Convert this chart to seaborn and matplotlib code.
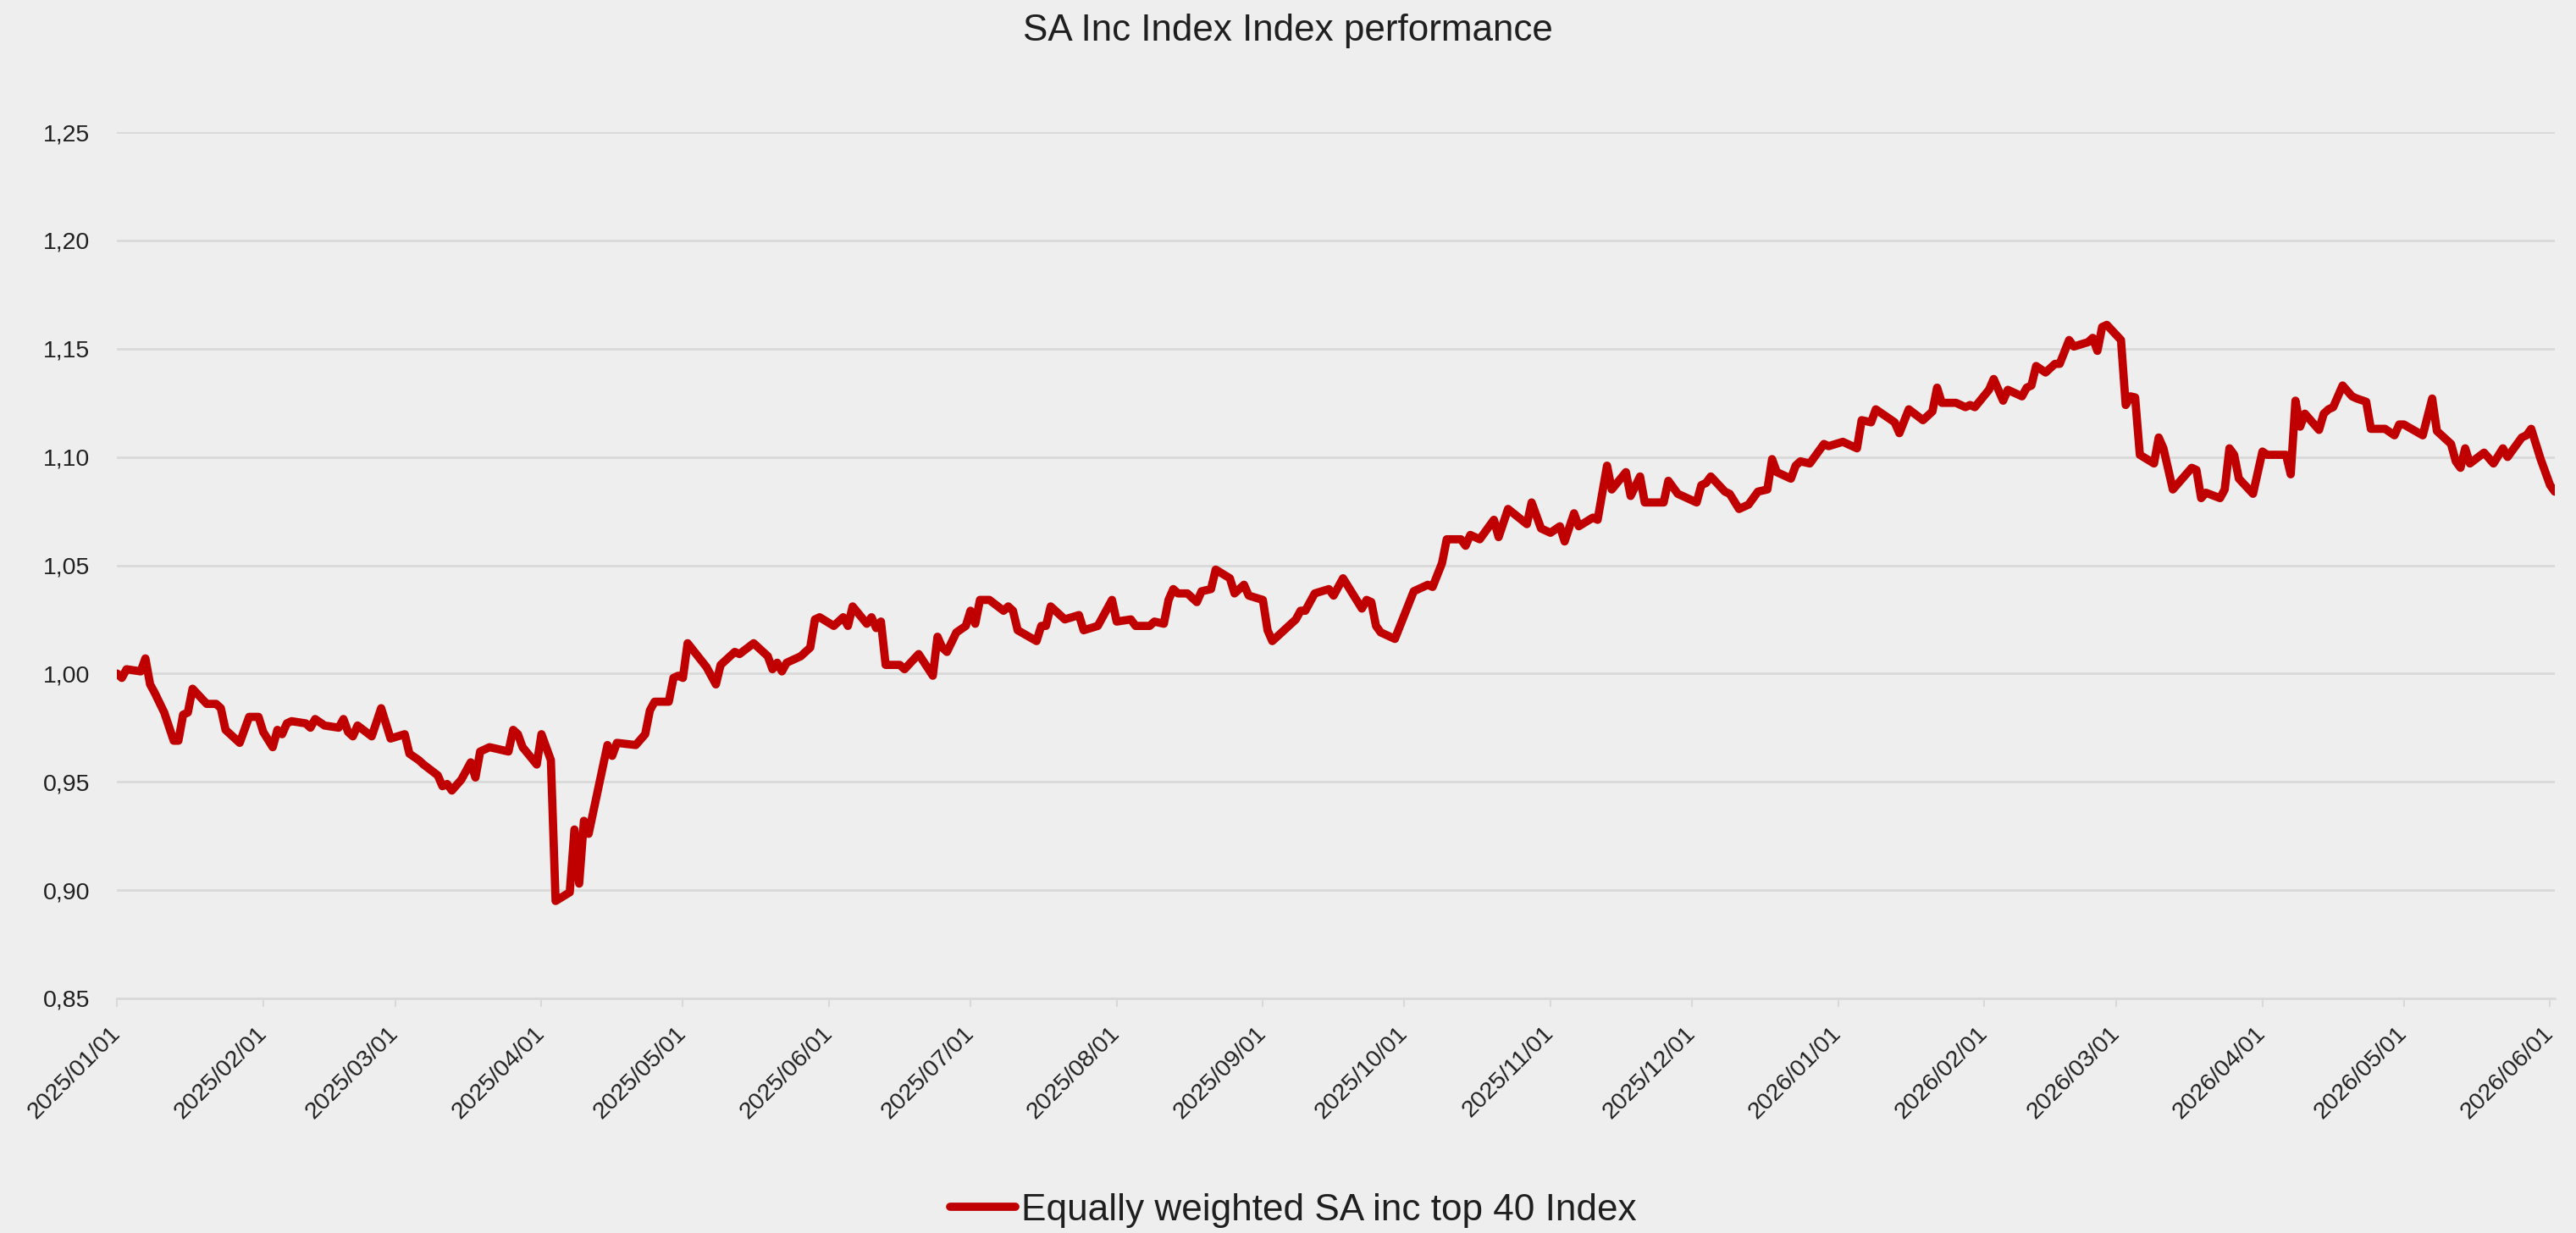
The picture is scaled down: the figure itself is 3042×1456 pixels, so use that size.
import matplotlib
matplotlib.use('Agg')
import matplotlib.pyplot as plt
import matplotlib.dates as mdates
from matplotlib.lines import Line2D
import seaborn as sns
import pandas as pd

# ---------------- data ----------------
title_text = 'SA Inc Index Index performance'
series_name = 'Equally weighted SA inc top 40 Index'
start_date = '2025-01-01'

day_offset = [
    0, 1, 2, 5, 6, 7, 8, 10, 12, 13, 14, 15, 16, 19, 21, 22, 23, 26, 28, 30,
    31, 33, 34, 35, 36, 37, 40, 41, 42, 44, 47, 48, 49, 50, 51, 54, 56, 58, 61, 62,
    64, 65, 68, 69, 70, 71, 73, 75, 76, 77, 79, 83, 84, 85, 86, 89, 90, 92, 93, 96,
    97, 98, 99, 100, 104, 105, 106, 110, 112, 113, 114, 117, 118, 119, 120, 121, 125, 126, 127, 128,
    131, 132, 135, 138, 139, 140, 141, 142, 145, 147, 148, 149, 152, 154, 155, 156, 159, 160, 161, 162,
    163, 166, 167, 170, 173, 174, 175, 176, 178, 180, 181, 182, 183, 185, 188, 189, 190, 191, 195, 196,
    197, 198, 201, 204, 205, 208, 211, 212, 215, 216, 219, 220, 222, 223, 224, 225, 227, 229, 230, 232,
    233, 236, 237, 239, 240, 243, 244, 245, 247, 250, 251, 252, 254, 257, 258, 260, 264, 265, 266, 267,
    268, 270, 271, 273, 275, 278, 279, 281, 282, 285, 286, 287, 289, 292, 293, 295, 299, 300, 302, 304,
    306, 307, 309, 310, 313, 314, 316, 317, 320, 321, 323, 324, 328, 329, 331, 335, 336, 337, 338, 341,
    342, 344, 346, 348, 350, 351, 352, 355, 356, 357, 359, 362, 363, 366, 369, 370, 372, 373, 377, 378,
    380, 383, 385, 386, 387, 390, 392, 393, 394, 397, 398, 400, 401, 404, 405, 406, 407, 409, 411, 412,
    414, 415, 418, 419, 420, 421, 422, 425, 426, 427, 428, 429, 432, 433, 434, 436, 440, 441, 442, 443,
    446, 447, 448, 449, 450, 453, 455, 456, 460, 461, 462, 463, 464, 467, 468, 469, 470, 472, 474, 475,
    477, 478, 481, 483, 484, 485, 489, 491, 492, 495, 496, 497, 498, 499, 502, 504, 506, 507, 510, 511,
    512, 514, 516, 517,
]

index_value = [
    1.000, 0.998, 1.002, 1.001, 1.007, 0.995, 0.991, 0.982, 0.969, 0.969, 0.981, 0.982, 0.993, 0.986, 0.986, 0.984, 0.974, 0.968, 0.980, 0.980,
    0.973, 0.966, 0.974, 0.972, 0.977, 0.978, 0.977, 0.975, 0.979, 0.976, 0.975, 0.979, 0.973, 0.971, 0.976, 0.971, 0.984, 0.970, 0.972, 0.963,
    0.960, 0.958, 0.953, 0.948, 0.949, 0.946, 0.951, 0.959, 0.952, 0.964, 0.966, 0.964, 0.974, 0.972, 0.966, 0.958, 0.972, 0.960, 0.895, 0.899,
    0.928, 0.903, 0.932, 0.926, 0.967, 0.962, 0.968, 0.967, 0.972, 0.983, 0.987, 0.987, 0.998, 0.999, 0.998, 1.014, 1.003, 0.999, 0.995, 1.004,
    1.010, 1.009, 1.014, 1.008, 1.002, 1.005, 1.001, 1.005, 1.008, 1.012, 1.025, 1.026, 1.022, 1.026, 1.022, 1.031, 1.023, 1.026, 1.021, 1.024,
    1.004, 1.004, 1.002, 1.009, 0.999, 1.017, 1.012, 1.010, 1.019, 1.022, 1.029, 1.023, 1.034, 1.034, 1.029, 1.031, 1.029, 1.020, 1.015, 1.022,
    1.022, 1.031, 1.025, 1.027, 1.020, 1.022, 1.034, 1.024, 1.025, 1.022, 1.022, 1.024, 1.023, 1.034, 1.039, 1.037, 1.037, 1.033, 1.038, 1.039,
    1.048, 1.044, 1.037, 1.041, 1.036, 1.034, 1.020, 1.015, 1.019, 1.025, 1.029, 1.029, 1.037, 1.039, 1.036, 1.044, 1.030, 1.034, 1.033, 1.022,
    1.019, 1.017, 1.016, 1.027, 1.038, 1.041, 1.040, 1.051, 1.062, 1.062, 1.059, 1.064, 1.062, 1.071, 1.063, 1.076, 1.069, 1.079, 1.067, 1.065,
    1.068, 1.061, 1.074, 1.068, 1.072, 1.071, 1.096, 1.085, 1.093, 1.082, 1.091, 1.079, 1.079, 1.089, 1.083, 1.079, 1.087, 1.088, 1.091, 1.084,
    1.083, 1.076, 1.078, 1.084, 1.085, 1.099, 1.093, 1.090, 1.096, 1.098, 1.097, 1.106, 1.105, 1.107, 1.104, 1.117, 1.116, 1.122, 1.116, 1.111,
    1.122, 1.117, 1.121, 1.132, 1.125, 1.125, 1.123, 1.124, 1.123, 1.131, 1.136, 1.126, 1.131, 1.128, 1.132, 1.133, 1.142, 1.139, 1.143, 1.143,
    1.154, 1.151, 1.153, 1.155, 1.149, 1.160, 1.161, 1.154, 1.124, 1.128, 1.1275, 1.101, 1.097, 1.109, 1.104, 1.085, 1.095, 1.094, 1.081, 1.0835,
    1.081, 1.085, 1.104, 1.101, 1.090, 1.083, 1.1025, 1.101, 1.101, 1.092, 1.126, 1.114, 1.120, 1.1125, 1.120, 1.122, 1.123, 1.133, 1.128, 1.127,
    1.1255, 1.113, 1.113, 1.110, 1.115, 1.115, 1.110, 1.127, 1.112, 1.106, 1.098, 1.095, 1.104, 1.097, 1.102, 1.097, 1.104, 1.100, 1.109, 1.110,
    1.113, 1.099, 1.087, 1.084,
]

y_ticks = [0.85, 0.90, 0.95, 1.00, 1.05, 1.10, 1.15, 1.20, 1.25]

# ---------------- style ----------------
sns.set_theme(style='white')
plt.rcParams['font.family'] = ['Liberation Sans', 'DejaVu Sans']

bg = '#EEEEEE'
grid_c = '#D9D9D9'
line_c = '#C00000'
text_c = '#1F1F1F'
line_w = 7.0

fig = plt.figure(figsize=(30.42, 14.56), dpi=100, facecolor=bg)
ax = fig.add_axes([0.04546, 0.19025, 0.9463, 0.7026])
ax.set_facecolor(bg)

df = pd.DataFrame({
    'date': pd.Timestamp(start_date) + pd.to_timedelta(day_offset, unit='D'),
    'value': index_value,
    'series': series_name,
})

sns.lineplot(data=df, x='date', y='value', hue='series', palette=[line_c],
             linewidth=line_w, ax=ax, legend=False, zorder=3)
for ln in ax.get_lines():
    ln.set_solid_joinstyle('round')
    ln.set_solid_capstyle('round')

# axes limits / ticks
ax.set_xlim(df['date'].min(), df['date'].max())
ax.set_ylim(y_ticks[0], y_ticks[-1])
ax.set_yticks(y_ticks)
ax.set_yticklabels([f'{v:.2f}'.replace('.', ',') for v in y_ticks])
ax.xaxis.set_major_locator(mdates.MonthLocator())
ax.xaxis.set_major_formatter(mdates.DateFormatter('%Y/%m/%d'))

ax.set_xlabel('')
ax.set_ylabel('')

ax.yaxis.grid(True, color=grid_c, linewidth=2, zorder=0)
ax.xaxis.grid(False)
for s in ['top', 'right', 'left']:
    ax.spines[s].set_visible(False)
ax.spines['bottom'].set_color(grid_c)
ax.spines['bottom'].set_linewidth(2)

ax.tick_params(axis='y', length=0, pad=23, labelsize=20.5, labelcolor=text_c)
ax.tick_params(axis='x', direction='out', length=7, width=1.5, color=grid_c,
               pad=20, labelsize=20.5, labelcolor=text_c, bottom=True)
for lab in ax.get_xticklabels():
    lab.set_rotation(45)
    lab.set_ha('right')
    lab.set_va('center')
    lab.set_rotation_mode('anchor')

# title
fig.text(0.5, 1 - 48 / 1456, title_text, ha='center', va='baseline',
         fontsize=31.7, color=text_c)

# legend
handle = Line2D([], [], color=line_c, linewidth=line_w, solid_capstyle='round')
leg = fig.legend(handles=[handle], labels=[series_name], loc='center',
                 bbox_to_anchor=(0.502, 0.0185), frameon=False, fontsize=31.8,
                 handlelength=1.75, handletextpad=0.15, borderaxespad=0, borderpad=0)
for t in leg.get_texts():
    t.set_color(text_c)

fig.savefig('out.png', dpi=100, facecolor=bg)
